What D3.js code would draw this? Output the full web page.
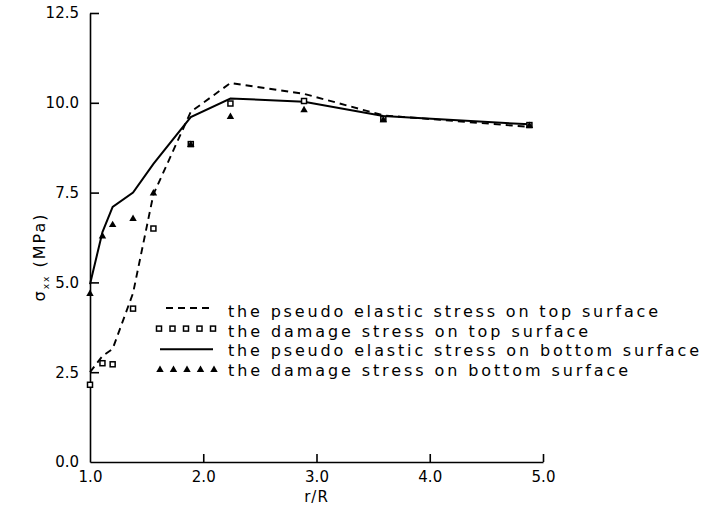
<!DOCTYPE html>
<html>
<head>
<meta charset="utf-8">
<script src="https://cdn.jsdelivr.net/npm/d3@7"></script>
<style>
  body { margin: 0; background: #fff; }
  svg text { font-family: "DejaVu Sans", sans-serif; fill: #000; }
</style>
</head>
<body>
<svg id="chart" width="701" height="513"></svg>
<script>
// values
var rRatio = [1.0, 1.11, 1.2, 1.38, 1.56, 1.89, 2.24, 2.89, 3.59, 4.88]
var pseudoTop = [2.5, 2.95, 3.15, 4.7, 7.45, 9.75, 10.55, 10.25, 9.65, 9.33]
var damageTop = [2.15, 2.75, 2.72, 4.27, 6.5, 8.85, 9.98, 10.05, 9.55, 9.38]
var pseudoBottom = [4.95, 6.4, 7.1, 7.5, 8.3, 9.6, 10.12, 10.03, 9.63, 9.4]
var damageBottom = [4.68, 6.28, 6.6, 6.77, 7.48, 8.83, 9.61, 9.8, 9.52, 9.36]

var xTicks = [1, 2, 3, 4, 5]
var yTicks = [0, 2.5, 5, 7.5, 10, 12.5]

var legendLabels = [
  "the pseudo elastic stress on top surface",
  "the damage stress on top surface",
  "the pseudo elastic stress on bottom surface",
  "the damage stress on bottom surface"
]
var legendKinds = ["dash", "square", "solid", "triangle"]
// widths the labels take in the figure
var legendWidths = [430, 360, 471, 400]

var svg = d3.select("#chart")

var x = d3.scaleLinear().domain([1, 5]).range([90, 543])
var y = d3.scaleLinear().domain([0, 12.5]).range([462, 13])

var fmt = d3.format(".1f")

// axes, ticks pointing inward
var yAxis = svg.append("g")
  .attr("transform", "translate(" + x(1) + ",0)")
  .call(d3.axisLeft(y).tickValues(yTicks).tickFormat(fmt).tickSize(-9).tickSizeOuter(0).tickPadding(11))
var xAxis = svg.append("g")
  .attr("transform", "translate(0," + y(0) + ")")
  .call(d3.axisBottom(x).tickValues(xTicks).tickFormat(fmt).tickSize(-8).tickSizeOuter(0).tickPadding(9))

svg.selectAll(".domain, .tick line")
  .attr("stroke", "#000")
  .attr("stroke-width", 1.6)
svg.selectAll(".tick text")
  .style("font-size", "15px")
  .style("font-family", "DejaVu Sans, sans-serif")
  .attr("fill", "#000")

// the tick at 1.0 sits on the y axis, hide that line
xAxis.selectAll(".tick").filter(function (d) { return d == 1 }).select("line").remove()
yAxis.selectAll(".tick").filter(function (d) { return d == 0 }).select("line").remove()

// axis titles
svg.append("text")
  .attr("x", x(3))
  .attr("y", 502)
  .attr("text-anchor", "middle")
  .style("font-size", "15px")
  .style("letter-spacing", "1px")
  .text("r/R")

var yTitle = svg.append("text")
  .attr("transform", "translate(45,257) rotate(-90)")
  .attr("text-anchor", "middle")
  .style("font-size", "16px")
  .style("letter-spacing", "2px")
yTitle.append("tspan").text("σ")
yTitle.append("tspan").attr("dy", 4).style("font-size", "9px").text("xx")
yTitle.append("tspan").attr("dy", -4).text(" (MPa)")

// lines
var line = d3.line()
  .x(function (d) { return x(d[0]) })
  .y(function (d) { return y(d[1]) })

svg.append("path")
  .datum(d3.zip(rRatio, pseudoTop))
  .attr("d", line)
  .attr("fill", "none")
  .attr("stroke", "#000")
  .attr("stroke-width", 1.9)
  .attr("stroke-dasharray", "7,5")

svg.append("path")
  .datum(d3.zip(rRatio, pseudoBottom))
  .attr("d", line)
  .attr("fill", "none")
  .attr("stroke", "#000")
  .attr("stroke-width", 2)

// markers
var tri = d3.symbol().type(d3.symbolTriangle).size(24)

svg.selectAll(".sq")
  .data(d3.zip(rRatio, damageTop))
  .enter().append("rect")
  .attr("class", "sq")
  .attr("x", function (d) { return x(d[0]) - 2.5 })
  .attr("y", function (d) { return y(d[1]) - 2.5 })
  .attr("width", 5)
  .attr("height", 5)
  .attr("fill", "#fff")
  .attr("stroke", "#000")
  .attr("stroke-width", 1.5)

svg.selectAll(".tri")
  .data(d3.zip(rRatio, damageBottom))
  .enter().append("path")
  .attr("class", "tri")
  .attr("transform", function (d) { return "translate(" + x(d[0]) + "," + y(d[1]) + ")" })
  .attr("d", tri)
  .attr("fill", "#000")

// legend
var legend = svg.append("g").attr("transform", "translate(159,317)")
var rowGap = 19.6

legendLabels.forEach(function (label, i) {
  var row = legend.append("g").attr("transform", "translate(0," + (i * rowGap) + ")")
  var kind = legendKinds[i]
  var sampleX = d3.range(5).map(function (k) { return k * 13.5 })

  if (kind == "dash") {
    row.append("line")
      .attr("x1", 7).attr("x2", 55).attr("y1", -9).attr("y2", -9)
      .attr("stroke", "#000").attr("stroke-width", 1.9)
      .attr("stroke-dasharray", "7,5")
  } else if (kind == "solid") {
    row.append("line")
      .attr("x1", 1).attr("x2", 54).attr("y1", -7).attr("y2", -7)
      .attr("stroke", "#000").attr("stroke-width", 2)
  } else if (kind == "square") {
    row.selectAll("rect").data(sampleX).enter().append("rect")
      .attr("x", function (d) { return d - 2.5 })
      .attr("y", -10.5)
      .attr("width", 5).attr("height", 5)
      .attr("fill", "#fff").attr("stroke", "#000").attr("stroke-width", 1.5)
  } else {
    row.selectAll("path").data(sampleX).enter().append("path")
      .attr("transform", function (d) { return "translate(" + (d + 1) + ",-6)" })
      .attr("d", tri)
      .attr("fill", "#000")
  }

  row.append("text")
    .attr("x", 69)
    .attr("y", 0)
    .attr("textLength", legendWidths[i])
    .attr("lengthAdjust", "spacing")
    .style("font-size", "16px")
    .text(label)
})
</script>
</body>
</html>
